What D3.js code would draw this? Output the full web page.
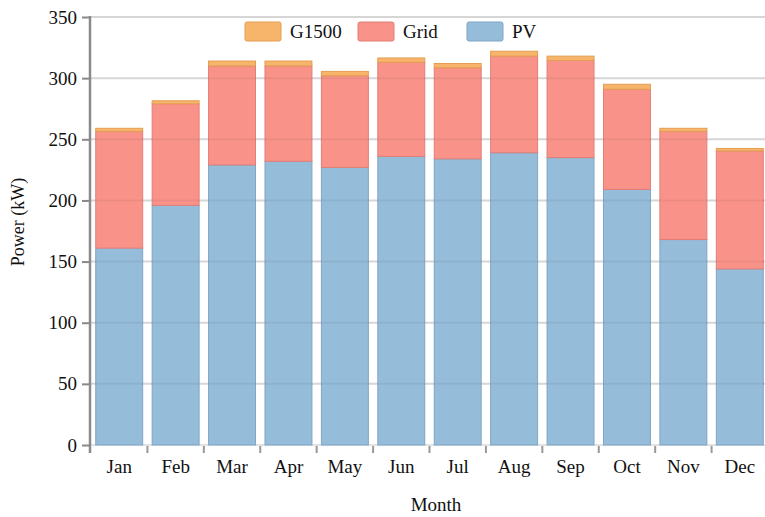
<!DOCTYPE html>
<html>
<head>
<meta charset="utf-8">
<script src="https://cdn.jsdelivr.net/npm/d3@7"></script>
<style>
  body { margin: 0; background: #fff; }
  text { font-family: "Liberation Serif", "Times New Roman", serif; fill: #111; }
</style>
</head>
<body>
<svg id="chart" width="765" height="517"></svg>
<script>
// monthly power mix (kW)
var months = ['Jan', 'Feb', 'Mar', 'Apr', 'May', 'Jun', 'Jul', 'Aug', 'Sep', 'Oct', 'Nov', 'Dec'];
var pv     = [161, 196, 229, 232, 227, 236, 234, 239, 235, 209, 168, 144];
var grid   = [95.5, 83, 81, 78, 75, 77, 74.5, 79, 79.5, 82, 88.5, 96.5];
var g1500  = [2.5, 2.5, 4, 4, 3.5, 3.5, 3.5, 4, 3.5, 4, 2.5, 2];
var yTicks = [0, 50, 100, 150, 200, 250, 300, 350];

var seriesKeys = ['PV', 'Grid', 'G1500'];
var legendKeys = ['G1500', 'Grid', 'PV'];
var fills   = {PV: '#95bcd9', Grid: '#f9938a', G1500: '#f7b56c'};
var strokes = {PV: '#7fa6c4', Grid: '#e27e76', G1500: '#e49d52'};

var svg = d3.select('#chart');

var x = d3.scaleBand()
    .domain(months)
    .range([91, 768])
    .paddingInner(0.15)
    .paddingOuter(0.075);

var y = d3.scaleLinear()
    .domain([0, 350])
    .range([445, 17]);

// build rows for the stack
var rows = months.map(function(m, i) {
    return {month: m, PV: pv[i], Grid: grid[i], G1500: g1500[i]};
});
var stacked = d3.stack().keys(seriesKeys)(rows);

// horizontal grid
svg.append('g')
    .selectAll('line')
    .data(yTicks)
    .enter().append('line')
    .attr('x1', 91).attr('x2', 765)
    .attr('y1', d => y(d)).attr('y2', d => y(d))
    .style('stroke', '#e2e2e2')
    .style('stroke-width', 2);

// bars
svg.append('g')
    .selectAll('g')
    .data(stacked)
    .enter().append('g')
    .style('fill', d => fills[d.key])
    .style('stroke', d => strokes[d.key])
    .style('stroke-width', 1)
    .selectAll('rect')
    .data(d => d)
    .enter().append('rect')
    .attr('x', d => x(d.data.month) + 0.5)
    .attr('y', d => y(d[1]))
    .attr('width', x.bandwidth() - 1)
    .attr('height', d => y(d[0]) - y(d[1]));

// faint grid showing through the bars
svg.append('g')
    .selectAll('line')
    .data(yTicks.slice(1))
    .enter().append('line')
    .attr('x1', 91).attr('x2', 765)
    .attr('y1', d => y(d)).attr('y2', d => y(d))
    .style('stroke', '#000')
    .style('stroke-opacity', 0.05)
    .style('stroke-width', 2);

// y axis
var yAxis = svg.append('g')
    .attr('transform', 'translate(90,0)')
    .call(d3.axisLeft(y).tickValues(yTicks).tickSize(8).tickPadding(5));
yAxis.select('.domain').remove();
yAxis.selectAll('.tick line').style('stroke', '#888').style('stroke-width', 2);
yAxis.selectAll('text').style('font-size', '19px').style('font-family', '"Liberation Serif", serif').style('fill', '#111');
svg.append('line')
    .attr('x1', 90).attr('x2', 90)
    .attr('y1', y(350) - 1).attr('y2', y(0) + 8)
    .style('stroke', '#8a8a8a')
    .style('stroke-width', 2.5);

// x axis: labels at band centres, ticks at band edges
var xAxis = svg.append('g')
    .attr('transform', 'translate(0,' + y(0) + ')')
    .call(d3.axisBottom(x).tickSize(0).tickPadding(15));
xAxis.select('.domain').remove();
xAxis.selectAll('text').style('font-size', '19px').style('font-family', '"Liberation Serif", serif').style('fill', '#111');

var edges = d3.range(1, months.length + 1).map(i => x.range()[0] + i * x.step());
svg.append('g')
    .selectAll('line')
    .data(edges)
    .enter().append('line')
    .attr('x1', d => d).attr('x2', d => d)
    .attr('y1', y(0) + 1).attr('y2', y(0) + 8)
    .style('stroke', '#999')
    .style('stroke-width', 2);

// axis titles
svg.append('text')
    .attr('x', 436)
    .attr('y', 511)
    .attr('text-anchor', 'middle')
    .style('font-size', '19px')
    .text('Month');

svg.append('text')
    .attr('transform', 'translate(24,222) rotate(-90)')
    .attr('text-anchor', 'middle')
    .style('font-size', '18px')
    .text('Power (kW)');

// legend
var legendX = {G1500: 245, Grid: 358, PV: 467};
var legend = svg.append('g')
    .selectAll('g')
    .data(legendKeys)
    .enter().append('g')
    .attr('transform', d => 'translate(' + legendX[d] + ',22)');
legend.append('rect')
    .attr('width', 36)
    .attr('height', 19)
    .attr('rx', 2)
    .style('fill', d => fills[d])
    .style('stroke', d => strokes[d])
    .style('stroke-width', 1);
legend.append('text')
    .attr('x', 45)
    .attr('y', 16)
    .style('font-size', '19px')
    .text(d => d);
</script>
</body>
</html>
